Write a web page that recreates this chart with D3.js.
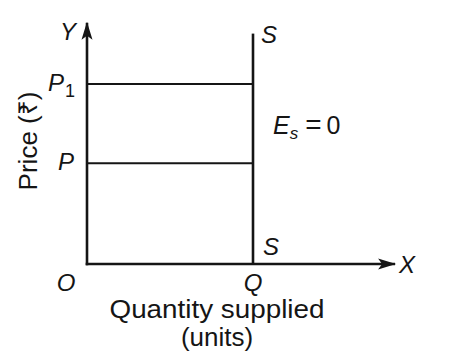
<!DOCTYPE html>
<html>
<head>
<meta charset="utf-8">
<script src="https://cdn.jsdelivr.net/npm/d3@7"></script>
<style>
html,body{margin:0;padding:0;background:#fff;}
svg{display:block;}
text{font-family:"Liberation Sans",Arial,Helvetica,sans-serif;fill:#151515;}
</style>
</head>
<body>
<svg id="chart" width="460" height="356"></svg>
<script>
// Data (conceptual units)
const priceLabels = ["P", "P1"];
const priceValues = [4.2, 7.5];
const supplyQuantity = [5];          // Q: perfectly inelastic supply
const supplyRange = [0, 9.6];        // vertical extent of S line
const axisExtent = { x: 9.28, y: 10.05 };
const xTickLabels = ["O", "Q"];
const elasticityText = ["=", "0"];

const svg = d3.select("#chart");
const x = d3.scaleLinear().domain([0, 10]).range([87, 419]);
const y = d3.scaleLinear().domain([0, 10]).range([264, 24]);
const ink = "#151515";

// arrow marker
const defs = svg.append("defs");
defs.append("marker").attr("id","arr").attr("viewBox","0 0 18 12")
  .attr("refX",17).attr("refY",6).attr("markerWidth",18).attr("markerHeight",12)
  .attr("markerUnits","userSpaceOnUse").attr("orient","auto")
  .append("path").attr("d","M0,0.5 L18,6 L0,11.5 L4,6 Z").attr("fill",ink);

const g = svg.append("g");

// horizontal price lines
g.selectAll("line.price").data(priceValues).join("line")
  .attr("class","price")
  .attr("x1", x(0)).attr("x2", x(supplyQuantity[0]))
  .attr("y1", d => y(d)).attr("y2", d => y(d))
  .attr("stroke", ink).attr("stroke-width", 2);

// supply line
g.append("line")
  .attr("x1", x(supplyQuantity[0])).attr("x2", x(supplyQuantity[0]))
  .attr("y1", y(supplyRange[0])).attr("y2", y(supplyRange[1]))
  .attr("stroke", ink).attr("stroke-width", 2.6);

// axes
g.append("line").attr("x1", x(0)).attr("y1", y(0) + 1.3).attr("x2", x(0)).attr("y2", y(axisExtent.y))
  .attr("stroke", ink).attr("stroke-width", 2.6).attr("marker-end","url(#arr)");
g.append("line").attr("x1", x(0) - 1.3).attr("y1", y(0)).attr("x2", x(axisExtent.x)).attr("y2", y(0))
  .attr("stroke", ink).attr("stroke-width", 2.6).attr("marker-end","url(#arr)");

const italic = (sel) => sel.style("font-style","italic");

// axis letters
italic(g.append("text").attr("x", x(0) - 19).attr("y", y(axisExtent.y) + 17)
  .attr("text-anchor","middle").attr("font-size", 24).text("Y"));
italic(g.append("text").attr("x", x(axisExtent.x) + 12).attr("y", y(0) + 9)
  .attr("text-anchor","middle").attr("font-size", 24).text("X"));

// price labels
priceLabels.forEach((lab, i) => {
  const t = g.append("text").attr("y", y(priceValues[i]) + 7).attr("font-size", 24)
    .attr("text-anchor","end");
  italic(t);
  if (lab === "P1") {
    t.attr("x", x(0) - 12);
    t.append("tspan").text("P");
    t.append("tspan").attr("font-size", 18).attr("dy", 6).attr("dx", 1).style("font-style","normal").text("1");
  } else {
    t.attr("x", x(0) - 13).text(lab);
  }
});

// x tick labels
italic(g.append("text").attr("x", x(0) - 21).attr("y", y(0) + 27)
  .attr("text-anchor","middle").attr("font-size", 24).text(xTickLabels[0]));
italic(g.append("text").attr("x", x(supplyQuantity[0])).attr("y", y(0) + 27)
  .attr("text-anchor","middle").attr("font-size", 24).text(xTickLabels[1]));

// S labels
italic(g.append("text").attr("x", x(supplyQuantity[0]) + 8).attr("y", y(supplyRange[1]) + 9)
  .attr("font-size", 24).text("S"));
italic(g.append("text").attr("x", x(supplyQuantity[0]) + 10).attr("y", y(0) - 9)
  .attr("font-size", 24).text("S"));

// elasticity label
const e = g.append("text").attr("x", x(supplyQuantity[0]) + 20).attr("y", 134).attr("font-size", 25);
e.append("tspan").style("font-style","italic").text("E");
e.append("tspan").attr("font-size", 17).attr("dy", 5).style("font-style","italic").text("s");
e.append("tspan").attr("dy", -5).attr("dx", 7).attr("font-size", 28).text(elasticityText[0]);
e.append("tspan").attr("dx", 5).text(elasticityText[1]);

// axis titles
g.append("text").attr("transform", "translate(37,141) rotate(-90)")
  .attr("text-anchor","middle").attr("font-size", 26).text("Price (₹)");
g.append("text").attr("x", 217).attr("y", 318).attr("text-anchor","middle")
  .attr("font-size", 26).attr("textLength", 215).attr("lengthAdjust","spacingAndGlyphs")
  .text("Quantity supplied");
g.append("text").attr("x", 217).attr("y", 346).attr("text-anchor","middle")
  .attr("font-size", 26).text("(units)");
</script>
</body>
</html>
